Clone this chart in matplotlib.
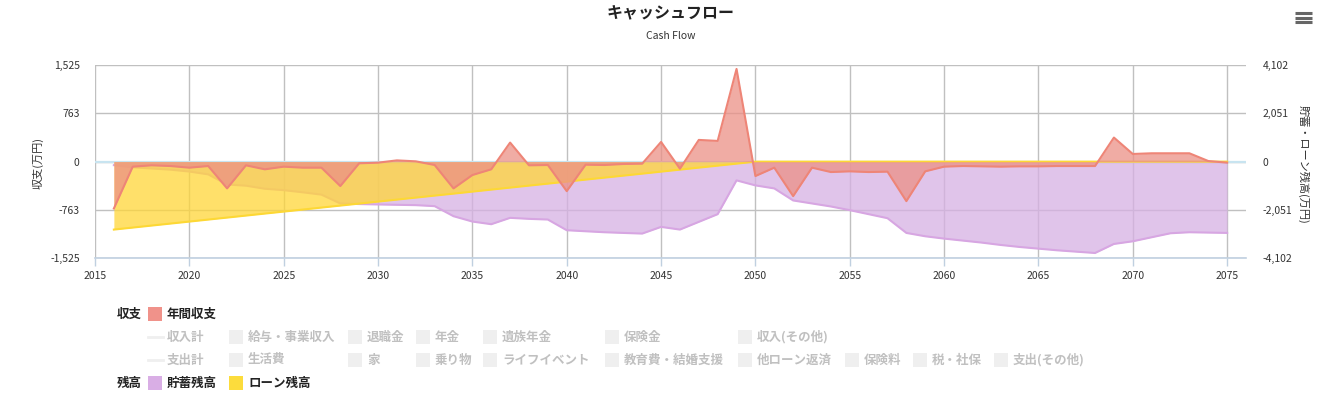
import matplotlib.pyplot as plt
from matplotlib.patches import Rectangle
from matplotlib.lines import Line2D
from matplotlib.ticker import FuncFormatter

plt.rcParams['font.family'] = ['Noto Sans CJK JP', 'DejaVu Sans']

# data (万円), one value per year 2016..2075
years = list(range(2016, 2076))
cashflow = [-739, -79, -58, -69, -95, -69, -422, -58, -121, -79,
            -95, -95, -385, -26, -16, 20, 5, -53, -422, -211,
            -121, 301, -58, -53, -465, -48, -53, -37, -32, 311,
            -111, 343, 327, 1463, -227, -95, -544, -95, -164, -153,
            -164, -158, -623, -153, -79, -69, -74, -79, -74, -74,
            -69, -69, -69, 380, 121, 132, 132, 132, 10, -16]
savings = [-150, -240, -290, -340, -420, -540, -970, -1020, -1150, -1210,
           -1300, -1400, -1775, -1800, -1817, -1832, -1846, -1889, -2315, -2542,
           -2655, -2385, -2428, -2457, -2911, -2954, -2996, -3025, -3053, -2769,
           -2883, -2556, -2229, -795, -1008, -1136, -1647, -1775, -1903, -2059,
           -2229, -2400, -3025, -3167, -3266, -3351, -3436, -3536, -3621, -3692,
           -3763, -3820, -3877, -3493, -3380, -3209, -3039, -2996, -3011, -3025]
loan = [-2883, -2798, -2713, -2628, -2544, -2459, -2374, -2289, -2204, -2120,
        -2035, -1950, -1865, -1780, -1696, -1611, -1526, -1441, -1357, -1272,
        -1187, -1102, -1017, -933, -848, -763, -678, -594, -509, -424,
        -339, -254, -170, -85, 0, 0, 0, 0, 0, 0,
        0, 0, 0, 0, 0, 0, 0, 0, 0, 0,
        0, 0, 0, 0, 0, 0, 0, 0, 0, 0]

left_ticks = [-1525, -763, 0, 763, 1525]
right_ticks = [-4102, -2051, 0, 2051, 4102]
x_ticks = [2015, 2020, 2025, 2030, 2035, 2040, 2045, 2050, 2055, 2060, 2065, 2070, 2075]

income_items = ['給与・事業収入', '退職金', '年金', '遺族年金', '保険金', '収入(その他)']
expense_items = ['生活費', '家', '乗り物', 'ライフイベント', '教育費・結婚支援',
                 '他ローン返済', '保険料', '税・社保', '支出(その他)']

RED = '#EC9086'
RED_LINE = '#EE8577'
PURPLE = '#D6B0E3'
PURPLE_LINE = '#D7A6E2'
YELLOW = '#FFD638'
YELLOW_LINE = '#FDD835'
GRID = '#C0C0C0'
AXIS = '#C0D0E0'

W, H = 1325, 407
fig = plt.figure(figsize=(W / 100, H / 100), dpi=100)


def fx(px):
    return px / W


def fy(py):
    return 1 - py / H


ax = fig.add_axes([fx(95), fy(258.3), (1246 - 95) / W, (258.3 - 65) / H])
ax2 = ax.twinx()
ax.set_zorder(2)
ax2.set_zorder(1)
ax.patch.set_visible(False)
ax2.patch.set_visible(True)
ax2.patch.set_facecolor('white')

# balances on the right axis
ax2.set_xlim(2015, 2076)
ax2.set_ylim(-4102, 4102)
for t in right_ticks:
    ax2.axhline(t, color=GRID, lw=1, zorder=0)
for t in x_ticks:
    ax2.axvline(t, color=GRID, lw=1, zorder=0)
ax2.axhline(0, color='#C8E4F0', lw=1.6, zorder=0.5)
ax2.fill_between(years, savings, 0, color=PURPLE, alpha=0.75, lw=0, zorder=1)
ax2.plot(years, savings, color=PURPLE_LINE, lw=1.5, zorder=2)
ax2.fill_between(years, loan, 0, color=YELLOW, alpha=0.75, lw=0, zorder=3)
ax2.plot(years, loan, color=YELLOW_LINE, lw=1.5, zorder=4)

# annual cashflow on the left axis
ax.set_xlim(2015, 2076)
ax.set_ylim(-1525, 1525)
ax.fill_between(years, cashflow, 0, color=RED, alpha=0.75, lw=0)
ax.plot(years, cashflow, color=RED_LINE, lw=1.5)

comma = FuncFormatter(lambda v, p: f'{int(v):,}')
ax.set_yticks(left_ticks)
ax.yaxis.set_major_formatter(comma)
ax2.set_yticks(right_ticks)
ax2.yaxis.set_major_formatter(comma)
ax.tick_params(axis='y', length=0, pad=11, labelsize=7.5, labelcolor='#333333')
ax2.tick_params(axis='y', length=0, pad=12, labelsize=7.5, labelcolor='#333333')
ax.set_xticks(x_ticks)
ax.tick_params(axis='x', length=6, width=1, color=AXIS, pad=3,
               labelsize=7.5, labelcolor='#333333')

for a in (ax, ax2):
    for s in ('top', 'left', 'right'):
        a.spines[s].set_visible(False)
ax2.spines['bottom'].set_visible(False)
ax.spines['bottom'].set_color(AXIS)
ax.spines['bottom'].set_linewidth(1.2)

fig.text(fx(38), fy(163), '収支(万円)', rotation=90, ha='center', va='center',
         fontsize=8, color='#333333')
fig.text(fx(1303), fy(164), '貯蓄・ローン残高(万円)', rotation=-90, ha='center',
         va='center', fontsize=8, color='#333333')

# titles
fig.text(fx(671), fy(13), 'キャッシュフロー', ha='center', va='center',
         fontsize=11.5, fontweight='bold', color='#222222')
fig.text(fx(671), fy(36), 'Cash Flow', ha='center', va='center',
         fontsize=7.5, color='#333333')

# menu icon
for py in (13, 17.5, 22):
    fig.add_artist(Line2D([fx(1295), fx(1312)], [fy(py), fy(py)],
                          color='#666666', lw=2.2, solid_capstyle='butt'))

# legend
GREY_TXT = '#C0C0C0'
GREY_BOX = '#EFEFEF'


def swatch(px, py, color):
    fig.add_artist(Rectangle((fx(px), fy(py + 7)), 14 / W, 14 / H,
                             transform=fig.transFigure, color=color, lw=0))


def label(px, py, txt, color='#222222', bold=False):
    fig.text(fx(px), fy(py), txt, ha='left', va='center', fontsize=9,
             color=color, fontweight='bold' if bold else 'normal')


rows = [314, 337, 360, 383]
label(117, rows[0], '収支', bold=True)
swatch(148, rows[0], '#F0928A')
label(167, rows[0], '年間収支', bold=True)

income_x = [229, 348, 416, 483, 605, 738]
expense_x = [229, 348, 416, 483, 605, 738, 845, 913, 994]
for py, total, items, xs in ((rows[1], '収入計', income_items, income_x),
                             (rows[2], '支出計', expense_items, expense_x)):
    fig.add_artist(Line2D([fx(148), fx(163)], [fy(py), fy(py)],
                          color=GREY_BOX, lw=2))
    label(167, py, total, color=GREY_TXT, bold=True)
    for name, px in zip(items, xs):
        swatch(px, py, GREY_BOX)
        label(px + 19, py, name, color=GREY_TXT, bold=True)

label(117, rows[3], '残高', bold=True)
swatch(148, rows[3], '#D9AEE5')
label(167, rows[3], '貯蓄残高', bold=True)
swatch(229, rows[3], '#FCDC3C')
label(248, rows[3], 'ローン残高', bold=True)

fig.savefig('out.png', dpi=100)
